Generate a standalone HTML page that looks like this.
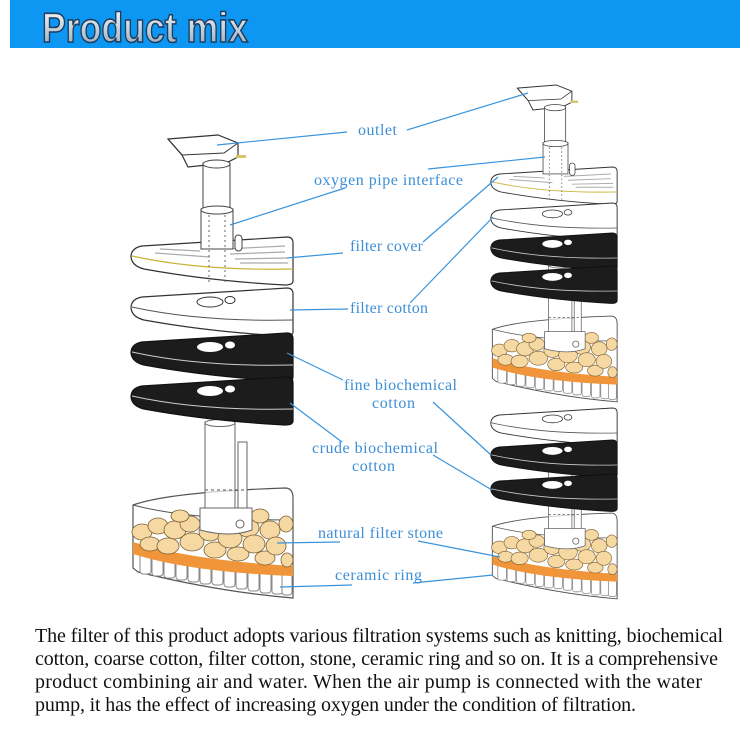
<!DOCTYPE html>
<html><head><meta charset="utf-8"><style>html,body{margin:0;padding:0;background:#fff}svg{display:block}</style></head>
<body>
<svg width="750" height="750" viewBox="0 0 750 750" xmlns="http://www.w3.org/2000/svg">
<defs>
<linearGradient id="hg" x1="0" y1="0" x2="0" y2="1">
<stop offset="0" stop-color="#ffffff"/><stop offset="0.5" stop-color="#c8d4de"/><stop offset="1" stop-color="#8fa3b5"/>
</linearGradient>
<path id="disc" d="M12,9 L157,0 Q163,0 163,6 L163,44 Q163,48 155,48 Q80,44 14,32 Q2,29 1,20 Q1,11 12,9 Z"/>
<g id="cover">
<use href="#disc" fill="#fff" stroke="#333" stroke-width="1.2"/>
<path d="M2,19 Q70,34 163,32" fill="none" stroke="#c9b43a" stroke-width="1.2"/>
<g stroke="#aaa" stroke-width="1.2">
<line x1="30" y1="12" x2="70" y2="14"/><line x1="25" y1="16" x2="80" y2="20"/><line x1="95" y1="12" x2="155" y2="9"/><line x1="100" y1="17" x2="155" y2="15"/><line x1="105" y1="22" x2="158" y2="21"/><line x1="110" y1="26" x2="158" y2="26"/>
</g>
</g>
<g id="cotton">
<use href="#disc" fill="#fff" stroke="#333" stroke-width="1.2"/>
<path d="M2,19 Q70,34 163,32" fill="none" stroke="#555" stroke-width="1"/>
<ellipse cx="80" cy="14" rx="13" ry="5" fill="none" stroke="#333"/>
<ellipse cx="100" cy="12" rx="5" ry="3.5" fill="none" stroke="#333"/>
</g>
<g id="black">
<use href="#disc" fill="#1c1c1c" stroke="#111" stroke-width="1.2"/>
<path d="M2,19 Q70,34 163,32" fill="none" stroke="#ccc" stroke-width="1"/>
<ellipse cx="80" cy="14" rx="13" ry="5" fill="#fff"/>
<ellipse cx="100" cy="12" rx="5" ry="3.5" fill="#fff"/>
</g>
<g id="tank">
<path d="M3,85 Q40,72 155,68 Q163,68 163,78 L163,178 Q90,172 8,152 L3,148 Z" fill="#fff" stroke="#555" stroke-width="1.2"/>
<path d="M3,85 Q60,100 163,100" fill="none" stroke="#555" stroke-width="1"/>
<g fill="#fff" stroke="#888" stroke-width="1">
<rect x="10" y="132" width="11" height="22" rx="3"/><rect x="22" y="134" width="11" height="22" rx="3"/><rect x="34" y="136" width="11" height="22" rx="3"/><rect x="46" y="138" width="11" height="22" rx="3"/><rect x="58" y="140" width="11" height="22" rx="3"/><rect x="70" y="142" width="11" height="22" rx="3"/><rect x="82" y="143" width="11" height="22" rx="3"/><rect x="94" y="145" width="11" height="22" rx="3"/><rect x="106" y="147" width="11" height="22" rx="3"/><rect x="118" y="149" width="11" height="22" rx="3"/><rect x="130" y="151" width="11" height="22" rx="3"/><rect x="142" y="152" width="11" height="22" rx="3"/><rect x="152" y="153" width="10" height="22" rx="3"/>
</g>
<path d="M3,122 Q60,140 163,146 L163,156 Q60,152 3,134 Z" fill="#f0953a"/>
<g fill="#f6d9a2" stroke="#7a6035" stroke-width="0.8">
<ellipse cx="12" cy="112" rx="10" ry="8"/><ellipse cx="28" cy="106" rx="10" ry="8"/><ellipse cx="45" cy="110" rx="11" ry="9"/><ellipse cx="20" cy="124" rx="10" ry="7"/><ellipse cx="38" cy="126" rx="11" ry="8"/><ellipse cx="60" cy="104" rx="10" ry="8"/><ellipse cx="62" cy="122" rx="12" ry="9"/><ellipse cx="80" cy="112" rx="11" ry="9"/><ellipse cx="85" cy="130" rx="11" ry="8"/><ellipse cx="100" cy="118" rx="12" ry="10"/><ellipse cx="108" cy="134" rx="11" ry="7"/><ellipse cx="118" cy="108" rx="11" ry="9"/><ellipse cx="124" cy="124" rx="11" ry="9"/><ellipse cx="135" cy="138" rx="10" ry="7"/><ellipse cx="140" cy="110" rx="10" ry="9"/><ellipse cx="146" cy="126" rx="10" ry="9"/><ellipse cx="156" cy="104" rx="7" ry="8"/><ellipse cx="157" cy="140" rx="6" ry="7"/><ellipse cx="130" cy="96" rx="9" ry="7"/><ellipse cx="100" cy="98" rx="9" ry="6"/><ellipse cx="50" cy="96" rx="9" ry="6"/>
</g>
<rect x="75" y="2" width="30" height="88" fill="#fff" fill-opacity="0.7" stroke="#666"/>
<ellipse cx="90" cy="3" rx="15" ry="3.5" fill="#fff" stroke="#666"/>
<rect x="108" y="22" width="9" height="68" fill="#fff" stroke="#666"/>
<path d="M70,88 L122,88 L122,110 Q100,118 70,110 Z" fill="#fff" stroke="#666"/>
<circle cx="110" cy="104" r="4" fill="none" stroke="#666"/>
<line x1="75" y1="70" x2="117" y2="70" stroke="#555" stroke-dasharray="3,3"/>
</g>
<g id="top">
<path d="M0,4 L50,0 L70,8 L70,22 L58,28 L20,32 L14,20 Z" fill="#fff" stroke="#333" stroke-width="1.2"/>
<path d="M0,4 L14,20 L56,18 L70,8" fill="none" stroke="#333"/>
<rect x="68" y="20" width="10" height="3" fill="#d9c36a"/>
<rect x="35" y="28" width="27" height="48" fill="#fff" stroke="#444"/>
<ellipse cx="48.5" cy="29" rx="13.5" ry="4" fill="#fff" stroke="#444"/>
<rect x="33" y="74" width="32" height="40" fill="#fff" stroke="#444"/>
<ellipse cx="49" cy="75" rx="16" ry="4" fill="#fff" stroke="#444"/>
<g stroke="#666" stroke-dasharray="2,3"><line x1="41" y1="80" x2="41" y2="150"/><line x1="57" y1="80" x2="57" y2="150"/></g>
<rect x="67" y="100" width="7" height="16" rx="3.5" fill="#fff" stroke="#444"/>
</g>
</defs>

<rect x="10" y="0" width="730" height="48" fill="#0e97f2"/>
<text x="42" y="42" font-family="Liberation Sans, sans-serif" font-weight="bold" font-size="42" textLength="206" lengthAdjust="spacingAndGlyphs" fill="url(#hg)" stroke="#1d3e60" stroke-width="1.6">Product mix</text>

<!-- left column -->
<use href="#tank" x="130" y="420"/>
<use href="#cover" x="130" y="237"/>
<g transform="translate(168,135)"><use href="#top"/></g>
<use href="#cotton" x="130" y="288"/>
<use href="#black" x="130" y="333"/>
<use href="#black" x="130" y="377"/>

<!-- right column -->
<g transform="translate(490,263) scale(0.78)"><use href="#tank"/></g>
<g transform="translate(490,460) scale(0.78)"><use href="#tank"/></g>
<g transform="translate(490,167) scale(0.78)"><use href="#cover"/></g>
<g transform="translate(490,85) scale(0.78)"><use href="#top" x="35" y="0"/></g>
<g transform="translate(490,203) scale(0.78)"><use href="#cotton"/></g>
<g transform="translate(490,233) scale(0.78)"><use href="#black"/></g>
<g transform="translate(490,266) scale(0.78)"><use href="#black"/></g>
<g transform="translate(490,408) scale(0.78)"><use href="#cotton"/></g>
<g transform="translate(490,440) scale(0.78)"><use href="#black"/></g>
<g transform="translate(490,474) scale(0.78)"><use href="#black"/></g>

<!-- leader lines -->
<g stroke="#3a94dc" stroke-width="1.2" fill="none">
<line x1="217" y1="145" x2="347" y2="132"/><line x1="407" y1="130" x2="528" y2="93"/>
<line x1="230" y1="225" x2="345" y2="188"/><line x1="428" y1="169" x2="545" y2="157"/>
<line x1="287" y1="258" x2="343" y2="253"/><line x1="423" y1="242" x2="498" y2="177"/>
<line x1="290" y1="310" x2="348" y2="309"/><line x1="410" y1="303" x2="493" y2="217"/>
<line x1="287" y1="353" x2="343" y2="380"/><line x1="433" y1="402" x2="491" y2="455"/>
<line x1="290" y1="403" x2="342" y2="442"/><line x1="433" y1="455" x2="492" y2="490"/>
<line x1="277" y1="543" x2="340" y2="542"/><line x1="418" y1="541" x2="500" y2="557"/>
<line x1="280" y1="587" x2="352" y2="585"/><line x1="413" y1="583" x2="493" y2="575"/>
</g>

<g font-family="Liberation Serif, serif" font-size="16" fill="#3d8fd6" lengthAdjust="spacingAndGlyphs">
<text x="358" y="135" textLength="39">outlet</text>
<text x="314" y="185" textLength="149">oxygen pipe interface</text>
<text x="350" y="251" textLength="73">filter cover</text>
<text x="350" y="313" textLength="78">filter cotton</text>
<text x="344" y="390" textLength="113">fine biochemical</text>
<text x="372" y="408" textLength="43">cotton</text>
<text x="312" y="453" textLength="126">crude biochemical</text>
<text x="352" y="471" textLength="43">cotton</text>
<text x="318" y="538" textLength="125">natural filter stone</text>
<text x="335" y="580" textLength="87">ceramic ring</text>
</g>

<g font-family="Liberation Serif, serif" font-size="20" fill="#111" lengthAdjust="spacingAndGlyphs">
<text x="35" y="642" textLength="688">The filter of this product adopts various filtration systems such as knitting, biochemical</text>
<text x="35" y="665" textLength="683">cotton, coarse cotton, filter cotton, stone, ceramic ring and so on. It is a comprehensive</text>
<text x="35" y="688" textLength="667">product combining air and water. When the air pump is connected with the water</text>
<text x="35" y="711" textLength="601">pump, it has the effect of increasing oxygen under the condition of filtration.</text>
</g>
</svg>
</body></html>
